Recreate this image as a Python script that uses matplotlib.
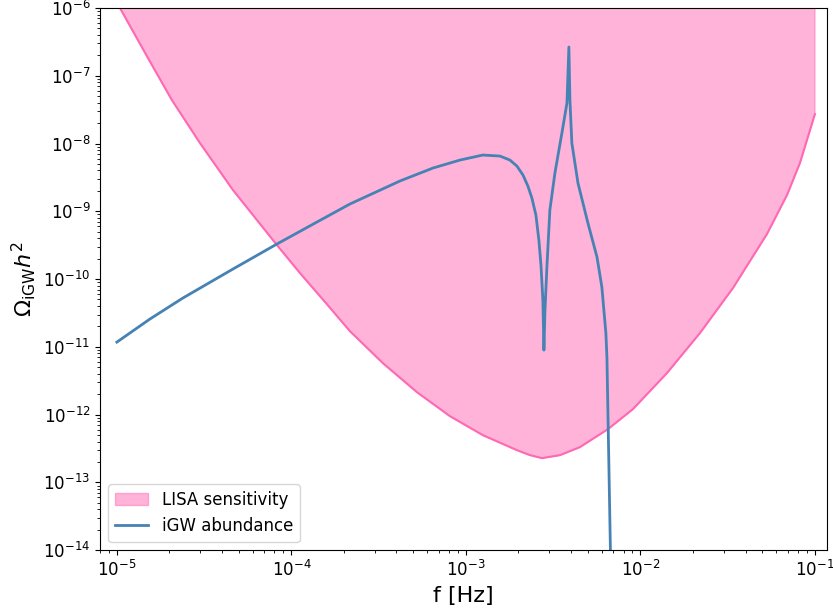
#!/usr/bin/env python3
"""
iGW abundance vs LISA sensitivity curve (log-log).
Values are read off a reference figure as (log10 f, log10 Omega h^2).
"""

import numpy as np
import matplotlib
matplotlib.use("Agg")
import matplotlib.pyplot as plt

# LISA power-law sensitivity (log10 f [Hz], log10 Omega h^2)
lisa_logf = [-5.0, -4.822, -4.685, -4.524, -4.335, -4.083, -3.951, -3.797,
             -3.665, -3.476, -3.281, -3.092, -2.903, -2.708, -2.633, -2.564,
             -2.461, -2.347, -2.186, -2.043, -1.848, -1.659, -1.470, -1.275,
             -1.160, -1.086, -1.0]
lisa_logomega = [-5.92, -6.738, -7.358, -7.993, -8.686, -9.498, -9.911, -10.369,
                 -10.768, -11.240, -11.668, -12.022, -12.303, -12.524, -12.598,
                 -12.642, -12.598, -12.480, -12.214, -11.919, -11.387, -10.797,
                 -10.133, -9.336, -8.760, -8.288, -7.565]

# induced GW abundance
igw_logf = [-5.0, -4.811, -4.622, -4.335, -4.083, -3.854, -3.665, -3.378,
            -3.189, -3.034, -2.903, -2.805, -2.748, -2.708, -2.673, -2.645,
            -2.622, -2.599, -2.582, -2.570, -2.559, -2.553, -2.547, -2.536,
            -2.519, -2.490, -2.450, -2.421, -2.410, -2.404, -2.393, -2.358,
            -2.301, -2.249, -2.221, -2.198, -2.192, -2.165]
igw_logomega = [-10.93, -10.59, -10.28, -9.852, -9.483, -9.159, -8.893, -8.553,
                -8.362, -8.244, -8.170, -8.185, -8.244, -8.332, -8.465, -8.627,
                -8.804, -9.055, -9.424, -9.793, -10.310, -11.048, -10.458, -9.823,
                -8.982, -8.435, -7.845, -7.402, -6.576, -7.358, -7.993, -8.583,
                -9.173, -9.675, -10.118, -10.797, -11.151, -15.0]

f_lisa = 10 ** np.array(lisa_logf)
om_lisa = 10 ** np.array(lisa_logomega)
f_igw = 10 ** np.array(igw_logf)
om_igw = 10 ** np.array(igw_logomega)

fig = plt.figure(figsize=(8.33, 6.12), dpi=100)
ax = fig.add_axes([0.12, 0.101, 0.873, 0.886])

ax.fill_between(f_lisa, om_lisa, 1.0, color='hotpink', alpha=0.5,
                label='LISA sensitivity')
ax.plot(f_lisa, om_lisa, color='hotpink', lw=1.5)
ax.plot(f_igw, om_igw, color='steelblue', lw=2, label='iGW abundance')

ax.set_xscale('log')
ax.set_yscale('log')
ax.set_xlim(10 ** -5.097, 10 ** -0.93)
ax.set_ylim(1e-14, 1e-6)

ax.set_xlabel('f [Hz]', fontsize=16)
ax.set_ylabel(r'$\Omega_{\rm iGW}h^2$', fontsize=16)
ax.tick_params(axis='both', labelsize=12)
ax.legend(loc='lower left', fontsize=12)

fig.savefig('out.png', dpi=100)
